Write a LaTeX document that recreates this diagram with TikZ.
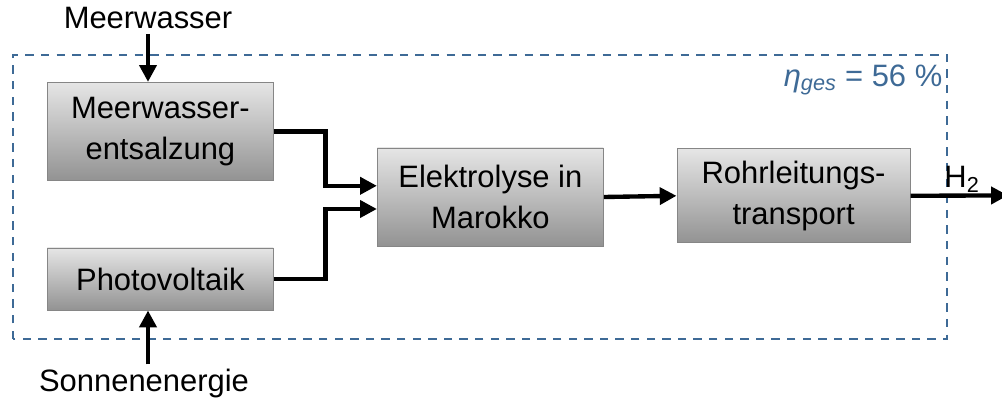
\documentclass[tikz,border=0pt]{standalone}
\usepackage{fontspec}
\setmainfont{Liberation Sans}
\usepackage{tikz}
\usetikzlibrary{positioning}
\usetikzlibrary{arrows.meta}

\begin{document}
\begin{tikzpicture}[font=\fontsize{22}{29}\selectfont,
	flow/.style={line width=3.1pt,-{Triangle[length=4.2mm,width=4.2mm]}},
	proc node/.style={rectangle,draw=gray!95,line width=0.7pt,top color=gray!20,bottom color=gray!85,
		minimum width=5.65cm,minimum height=2.45cm,align=center,inner sep=2pt}]
	
	\definecolor{rahmen}{RGB}{62,106,150}
	
	\useasboundingbox (0,0) rectangle (25.05,10.075);
	
	% Systemgrenze
	\draw[rahmen,line width=1.4pt,dash pattern=on 2.1mm off 1.8mm] (0.325,1.6) rectangle (23.675,8.7);
	\node[text=rahmen,anchor=east,inner sep=1pt] (eta) at (23.6,8.08) {\itshape η\textsubscript{ges}\upshape{} = 56 \%};
	
	% Prozesskette
	\node[proc node] (meer) at (4.01,6.79) {Meerwasser-\\entsalzung};
	\node[proc node,minimum height=1.55cm] (pv) [below of=meer,node distance=3.69cm] {Photovoltaik};
	\node[proc node] (el) at (12.26,5.15) {Elektrolyse in\\Marokko};
	\node[proc node,minimum width=5.83cm,minimum height=2.35cm] (rohr) [right of=el,node distance=7.58cm,yshift=0.3mm] {Rohrleitungs-\\transport};
	
	% Ein- und Ausgaenge
	\node (mw) at (3.7,9.62) {Meerwasser};
	\node (se) at (3.6,0.48) {Sonnenenergie};
	\node (h2) at (24.05,5.6) {H\textsubscript{2}};
	\coordinate (aus) at (25.2,5.19);
	
	\draw[flow] (mw.south) -- (mw.south |- meer.north);
	\draw[flow] (se.north -| mw.south) -- (mw.south |- pv.south);
	\draw[flow] (meer.east) -- ++(1.29,0) |- ([yshift=2.8mm]el.west);
	\draw[flow] (pv.east) -- ++(1.29,0) |- ([yshift=-3mm]el.west);
	\draw[flow] (el.east) -- (rohr.west);
	\draw[flow] (rohr.east) -- (aus);
\end{tikzpicture}
\end{document}
